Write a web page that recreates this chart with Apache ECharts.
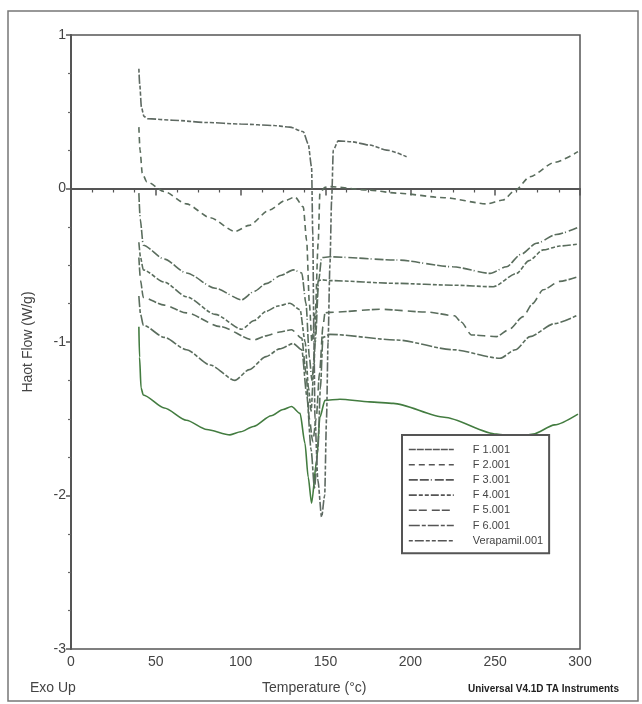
<!DOCTYPE html>
<html>
<head>
<meta charset="utf-8">
<script src="https://cdn.jsdelivr.net/npm/echarts@6/dist/echarts.min.js"></script>
<style>html,body{margin:0;padding:0;background:#fff;}#c{width:642px;height:704px;}</style>
</head>
<body>
<div id="c"></div>
<script>
// ---- data (Temperature °C, Heat Flow W/g) ----
const seriesNames = ['F 1.001','F 2.001','F 3.001','F 4.001','F 5.001','F 6.001','Verapamil.001'];
const xTicks = [0,50,100,150,200,250,300];
const yTicks = [-3,-2,-1,0,1];

const f1T  = [40,40.4,41.3,42.6,55,68,80,93.7,100,107.5,118,125,130,135,137.9,139.8,141.8,144.8,146.7,149.7,158.5,176,190,220,250.8,262,272.4,285,298.8];
const f1HF = [-0.9,-1.1,-1.3,-1.345,-1.43,-1.51,-1.57,-1.605,-1.585,-1.55,-1.48,-1.44,-1.42,-1.465,-1.66,-1.88,-2.05,-1.77,-1.49,-1.38,-1.373,-1.39,-1.40,-1.49,-1.60,-1.62,-1.60,-1.54,-1.47];

const f2T  = [40,40.7,42,44.6,55,68,82,96.6,105,117,126,132,136.9,138.9,140.5,142,144,145.7,146.7,149.7,152.6,175,192,220,245,254.6,262,270.5,285,298.8];
const f2HF = [0.40,0.25,0.10,0.045,-0.02,-0.10,-0.19,-0.28,-0.24,-0.14,-0.08,-0.055,-0.12,-0.34,-0.75,-1.0,-0.8,-0.35,-0.03,0.008,0.012,-0.01,-0.03,-0.06,-0.10,-0.075,-0.01,0.077,0.17,0.24];

const f3T  = [40,40.8,42.6,55,68,85,100.6,108,115,124,131,136,138.5,140.5,142,144,146,147.7,152.6,192,225,247,256.7,265,274.4,286,298.8];
const f3HF = [-0.03,-0.2,-0.37,-0.46,-0.55,-0.65,-0.725,-0.67,-0.62,-0.565,-0.53,-0.55,-0.75,-1.1,-1.25,-1.0,-0.6,-0.45,-0.445,-0.466,-0.51,-0.553,-0.51,-0.43,-0.357,-0.30,-0.253];

const f4T  = [40,41,42.6,55,68,85,100.6,108,115,122,129,135,138,140,141.5,143,144.5,145.7,148,152.6,192,225,248.9,262.6,270,278.3,288,298.8];
const f4HF = [-0.35,-0.45,-0.53,-0.61,-0.705,-0.82,-0.917,-0.86,-0.80,-0.765,-0.748,-0.79,-1.0,-1.3,-1.45,-1.2,-0.8,-0.6,-0.595,-0.60,-0.618,-0.63,-0.64,-0.553,-0.47,-0.40,-0.375,-0.362];

const f5T  = [40,41,42.6,55,68,88,107.5,115,123,130,136,138.5,140.5,142.5,144.5,146.5,148.5,149.7,152.6,182,210,226,230,236,250.8,258,266.5,272,278.3,288,298.8];
const f5HF = [-0.45,-0.6,-0.71,-0.76,-0.81,-0.9,-0.987,-0.96,-0.935,-0.92,-0.975,-1.2,-1.5,-1.65,-1.5,-1.2,-0.9,-0.81,-0.807,-0.787,-0.805,-0.829,-0.87,-0.954,-0.965,-0.92,-0.835,-0.75,-0.66,-0.605,-0.575];

const f6T  = [40,41,42.6,55,68,82,96.6,105,115,123,131,136,139,141.5,143.5,145.5,147,148.5,152.6,192,225,252.8,262,270.5,285,298.8];
const f6HF = [-0.7,-0.82,-0.89,-0.97,-1.05,-1.15,-1.25,-1.18,-1.095,-1.045,-1.01,-1.05,-1.35,-1.7,-1.95,-1.7,-1.3,-0.97,-0.95,-0.987,-1.05,-1.106,-1.05,-0.965,-0.88,-0.824];

const verT  = [40,40.5,41.5,43,45,60,80,100,120,129,136.9,139.8,141.8,142.5,143.2,143.8,145.5,147.7,149.5,150.6,151.5,152.6,153.6,154.6,157.5,165,176,186,197.8];
const verHF = [0.78,0.68,0.53,0.47,0.455,0.445,0.43,0.42,0.41,0.40,0.37,0.29,0.14,-0.3,-1.0,-1.5,-1.9,-2.14,-2.0,-1.5,-1.0,-0.5,-0.08,0.25,0.31,0.305,0.283,0.25,0.207];

const temps = [f1T,f2T,f3T,f4T,f5T,f6T,verT];
const flows = [f1HF,f2HF,f3HF,f4HF,f5HF,f6HF,verHF];

// ---- styles ----
const dashes = [
  [7,1],
  [6,4],
  [9,2,9,2,1,3],
  [8,2,4,2,4,2],
  [8,2,8,5],
  [11,2,4,2],
  [4,2,9,2,4,2]
];
const colors = ['#437c40','#5a6d5d','#5a6d5d','#5a6d5d','#5a6d5d','#5a6d5d','#5e6962'];

const series = seriesNames.map((n,i)=>({
  name: n,
  type: 'line',
  symbol: 'none',
  smooth: 0.25,
  smoothMonotone: 'x',
  data: temps[i].map((t,k)=>[t, flows[i][k]]),
  lineStyle: {color: colors[i], width: 1.6, type: i===0 ? 'solid' : dashes[i]},
  itemStyle: {color: colors[i]},
  z: 2
}));

const legendData = seriesNames.map((n,i)=>({
  name: n,
  itemStyle: {opacity: 0},
  lineStyle: {color: '#555', width: 1.6, type: dashes[i]}
}));

const chart = echarts.init(document.getElementById('c'), null, {renderer:'canvas'});
const FONT = 'Liberation Sans, Arial, sans-serif';
chart.setOption({
  animation: false,
  backgroundColor: '#fff',
  grid: {left: 71, right: 62, top: 35, bottom: 55, show: true, borderColor: '#555', borderWidth: 1.5, backgroundColor: 'transparent'},
  xAxis: {
    type: 'value', min: xTicks[0], max: xTicks[xTicks.length-1], interval: 50,
    axisLine: {show: true, lineStyle: {color: '#555', width: 2}},
    axisTick: {show: true, length: 7, lineStyle: {color: '#555', width: 1.5}},
    minorTick: {show: true, splitNumber: 4, length: 4, lineStyle: {color: '#555', width: 1.2}},
    axisLabel: {color: '#444', fontSize: 14, fontFamily: FONT, margin: 6},
    splitLine: {show: false}
  },
  yAxis: {
    type: 'value', min: yTicks[0], max: yTicks[yTicks.length-1], interval: 1,
    name: 'Haot Flow (W/g)', nameLocation: 'middle', nameGap: 36,
    nameTextStyle: {color: '#444', fontSize: 14, fontFamily: FONT},
    axisLine: {show: true, lineStyle: {color: '#555', width: 2}},
    axisTick: {show: true, length: 5, lineStyle: {color: '#555', width: 1.5}},
    minorTick: {show: true, splitNumber: 4, length: 3, lineStyle: {color: '#666', width: 1.2}},
    axisLabel: {color: '#444', fontSize: 14, fontFamily: FONT, margin: 5},
    splitLine: {show: false}
  },
  legend: {
    orient: 'vertical', left: 402, top: 435,
    selectedMode: false,
    data: legendData,
    itemWidth: 45, itemHeight: 10, itemGap: 4.2,
    itemStyle: {opacity: 0},
    padding: [9, 6, 7, 6],
    borderColor: '#555', borderWidth: 2, backgroundColor: '#fff',
    textStyle: {color: '#444', fontSize: 11, fontFamily: FONT, lineHeight: 10, padding: [0,0,0,14]},
    z: 5
  },
  series: series,
  graphic: [
    {type: 'rect', silent: true, shape: {x: 8, y: 11, width: 630, height: 690}, style: {fill: 'none', stroke: '#777', lineWidth: 1.5}, z: -1},
    {type: 'text', left: 30, top: 681, style: {text: 'Exo Up', fill: '#444', font: '14px ' + FONT}},
    {type: 'text', left: 262, top: 681, style: {text: 'Temperature (°c)', fill: '#444', font: '14px ' + FONT}},
    {type: 'text', left: 468, top: 684, style: {text: 'Universal V4.1D TA Instruments', fill: '#222', font: 'bold 10px ' + FONT}}
  ]
});
</script>
</body>
</html>
